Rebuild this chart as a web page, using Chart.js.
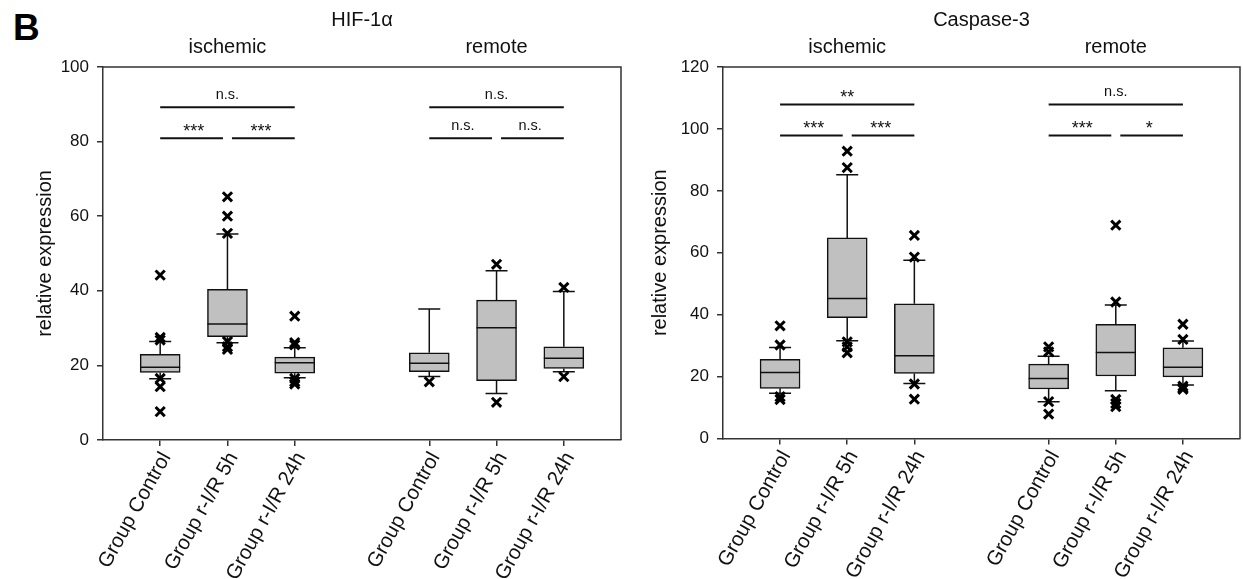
<!DOCTYPE html>
<html lang="en">
<head>
  <meta charset="UTF-8" />
  <title>HIF-1α and Caspase-3 relative expression</title>
  <script src="https://cdn.jsdelivr.net/npm/chart.js"></script>
  <style>
    body { margin: 0; background: #fff; }
    #wrap { position: relative; width: 1243px; height: 579px; }
    #panel { position: absolute; left: 13px; top: 9px; font: bold 37px "Liberation Sans", Arial, sans-serif; line-height: 37px; color: #000; }
    canvas { position: absolute; top: 0; }
  </style>
</head>
<body>
  <div id="wrap">
    <div id="panel">B</div>
    <canvas id="hifChart" width="625" height="579" style="left:0"></canvas>
    <canvas id="casChart" width="618" height="579" style="left:625px"></canvas>
  </div>

  <script>
    // categories (slot 3 is the gap between ischemic and remote)
    const categories = ['Group Control', 'Group r-I/R 5h', 'Group r-I/R 24h',
                        'Group Control', 'Group r-I/R 5h', 'Group r-I/R 24h'];
    const slots = [0, 1, 2, 4, 5, 6];
    const groupNames = ['ischemic', 'remote'];
    const groupSlots = [1, 5];

    // HIF-1alpha box plot values
    const hifLow  = [16.4, 26.1, 16.7, 17.0, 12.5, 18.3];
    const hifQ1   = [18.1, 27.7, 17.9, 18.3, 15.9, 19.2];
    const hifMed  = [19.5, 31.1, 20.7, 20.6, 30.1, 21.9];
    const hifQ3   = [23.0, 40.4, 22.2, 23.4, 37.5, 25.0];
    const hifHigh = [26.4, 55.2, 24.7, 35.1, 45.4, 39.8];
    const hifOut  = [[44.2, 27.5, 26.8, 16.5, 14.3, 7.6],
                     [65.2, 60.0, 55.4, 26.4, 25.0, 24.3],
                     [33.2, 26.1, 25.5, 16.5, 15.6, 15.0],
                     [15.6],
                     [47.1, 10.1],
                     [40.9, 17.0]];
    const hifSigFrom  = [0, 0, 1, 4, 4, 5];
    const hifSigTo    = [2, 1, 2, 6, 5, 6];
    const hifSigLevel = [89.2, 80.9, 80.9, 89.2, 80.9, 80.9];
    const hifSigText  = ['n.s.', '***', '***', 'n.s.', 'n.s.', 'n.s.'];

    // Caspase-3 box plot values
    const casLow  = [14.6, 31.6, 17.8, 11.9, 15.4, 17.3];
    const casQ1   = [16.2, 39.0, 21.0, 16.0, 20.2, 19.9];
    const casMed  = [21.3, 45.2, 26.7, 19.4, 27.8, 23.0];
    const casQ3   = [25.6, 64.8, 43.5, 24.0, 36.9, 29.3];
    const casHigh = [29.4, 85.2, 57.6, 26.6, 43.1, 31.5];
    const casOut  = [[36.4, 30.2, 13.5, 12.6],
                     [92.8, 87.5, 31.2, 29.6, 27.7],
                     [65.6, 58.6, 17.6, 12.7],
                     [29.6, 28.0, 11.9, 7.9],
                     [68.9, 44.1, 12.6, 11.3, 10.3],
                     [36.9, 32.0, 16.9, 16.3, 15.9]];
    const casSigFrom  = [0, 0, 1, 4, 4, 5];
    const casSigTo    = [2, 1, 2, 6, 5, 6];
    const casSigLevel = [107.9, 97.9, 97.9, 107.9, 97.9, 97.9];
    const casSigText  = ['**', '***', '***', 'n.s.', '***', '*'];

    const FONT = '"Liberation Sans", Arial, sans-serif';
    const INK = '#111';

    // whiskers, caps, medians, frame, brackets and headings
    function boxExtras(title, low, q1, med, q3, high, sig) {
      return {
        id: 'boxExtras',
        afterDatasetDraw(chart, args) {
          if (args.index !== 1) return;
          const ctx = chart.ctx, xs = chart.scales.x, ys = chart.scales.y;
          ctx.save();
          ctx.strokeStyle = INK;
          ctx.lineWidth = 1.5;
          slots.forEach((s, i) => {
            const px = xs.getPixelForValue(s);
            const yHi = ys.getPixelForValue(high[i]), yLo = ys.getPixelForValue(low[i]);
            const yMed = ys.getPixelForValue(med[i]);
            ctx.beginPath();
            ctx.moveTo(px, ys.getPixelForValue(q3[i]));
            ctx.lineTo(px, yHi);
            ctx.moveTo(px - 11, yHi);
            ctx.lineTo(px + 11, yHi);
            ctx.moveTo(px, ys.getPixelForValue(q1[i]));
            ctx.lineTo(px, yLo);
            ctx.moveTo(px - 11, yLo);
            ctx.lineTo(px + 11, yLo);
            ctx.moveTo(px - 20, yMed);
            ctx.lineTo(px + 20, yMed);
            ctx.stroke();
          });
          ctx.restore();
        },
        afterDraw(chart) {
          const ctx = chart.ctx, a = chart.chartArea;
          const xs = chart.scales.x, ys = chart.scales.y;
          ctx.save();
          // top + right frame
          ctx.strokeStyle = '#333';
          ctx.lineWidth = 1.5;
          ctx.beginPath();
          ctx.moveTo(a.left, a.top);
          ctx.lineTo(a.right, a.top);
          ctx.lineTo(a.right, a.bottom);
          ctx.stroke();

          // headings
          ctx.fillStyle = INK;
          ctx.textAlign = 'center';
          ctx.textBaseline = 'middle';
          ctx.font = '20px ' + FONT;
          ctx.fillText(title, (a.left + a.right) / 2, a.top - 47);
          groupNames.forEach((g, k) => {
            ctx.fillText(g, xs.getPixelForValue(groupSlots[k]), a.top - 20);
          });

          // significance brackets
          ctx.strokeStyle = INK;
          ctx.lineWidth = 2;
          ctx.textBaseline = 'alphabetic';
          sig.from.forEach((f, k) => {
            const t = sig.to[k];
            const shared = v => sig.from.some((ff, j) =>
              j !== k && sig.level[j] === sig.level[k] && (ff === v || sig.to[j] === v));
            let x0 = xs.getPixelForValue(f), x1 = xs.getPixelForValue(t);
            if (shared(f)) x0 += 4.5;
            if (shared(t)) x1 -= 4.5;
            const py = ys.getPixelForValue(sig.level[k]);
            ctx.beginPath();
            ctx.moveTo(x0, py);
            ctx.lineTo(x1, py);
            ctx.stroke();
            const stars = sig.text[k].startsWith('*');
            ctx.font = (stars ? '18px ' : '14.5px ') + FONT;
            ctx.fillText(sig.text[k], (xs.getPixelForValue(f) + xs.getPixelForValue(t)) / 2, py - (stars ? 1 : 8));
          });
          ctx.restore();
        }
      };
    }

    function makeChart(id, title, low, q1, med, q3, high, out, yMax, axisW, axisH, padRight, titlePad, sig) {
      const points = [];
      out.forEach((vals, i) => vals.forEach(v => points.push({ x: slots[i], y: v })));

      return new Chart(document.getElementById(id), {
        type: 'bar',
        data: {
          datasets: [
            {
              type: 'scatter',
              data: points,
              pointStyle: 'crossRot',
              pointRadius: 6.5,
              pointBorderWidth: 3,
              pointBorderColor: '#000',
              pointBackgroundColor: '#000'
            },
            {
              type: 'bar',
              data: slots.map((s, i) => ({ x: s, y: [q1[i], q3[i]] })),
              backgroundColor: '#c0c0c0',
              borderColor: INK,
              borderWidth: 1.5,
              borderSkipped: false,
              barThickness: 40
            }
          ]
        },
        options: {
          responsive: false,
          animation: false,
          events: [],
          layout: { autoPadding: false, padding: { top: 67, right: padRight, left: 0, bottom: 0 } },
          plugins: { legend: { display: false }, tooltip: { enabled: false } },
          scales: {
            x: {
              type: 'linear',
              min: -0.85,
              max: 6.85,
              offset: false,
              afterBuildTicks: s => { s.ticks = slots.map(v => ({ value: v })); },
              afterFit: s => { s.height = axisH; s.paddingLeft = 0; s.paddingRight = 0; },
              ticks: {
                autoSkip: false,
                minRotation: 61,
                maxRotation: 61,
                padding: 2,
                labelOffset: 6,
                color: INK,
                font: { size: 20.5, family: FONT },
                callback: (v, i) => categories[i]
              },
              grid: { offset: false, drawOnChartArea: false, drawTicks: true, tickLength: 6, color: '#333', lineWidth: 1.5 },
              border: { color: '#333', width: 1.5 }
            },
            y: {
              min: 0,
              max: yMax,
              afterFit: s => { s.width = axisW; },
              ticks: { stepSize: 20, padding: 8, color: INK, font: { size: 17, family: FONT } },
              grid: { drawOnChartArea: false, drawTicks: true, tickLength: 6, color: '#333', lineWidth: 1.5 },
              border: { color: '#333', width: 1.5 },
              title: {
                display: true,
                text: 'relative expression',
                color: INK,
                font: { size: 20, family: FONT },
                padding: { top: titlePad, bottom: 0 }
              }
            }
          }
        },
        plugins: [boxExtras(title, low, q1, med, q3, high, sig)]
      });
    }

    makeChart('hifChart', 'HIF-1α', hifLow, hifQ1, hifMed, hifQ3, hifHigh, hifOut,
              100, 103, 139, 4, 33,
              { from: hifSigFrom, to: hifSigTo, level: hifSigLevel, text: hifSigText });
    makeChart('casChart', 'Caspase-3', casLow, casQ1, casMed, casQ3, casHigh, casOut,
              120, 98, 140.5, 3, 23,
              { from: casSigFrom, to: casSigTo, level: casSigLevel, text: casSigText });
  </script>
</body>
</html>
